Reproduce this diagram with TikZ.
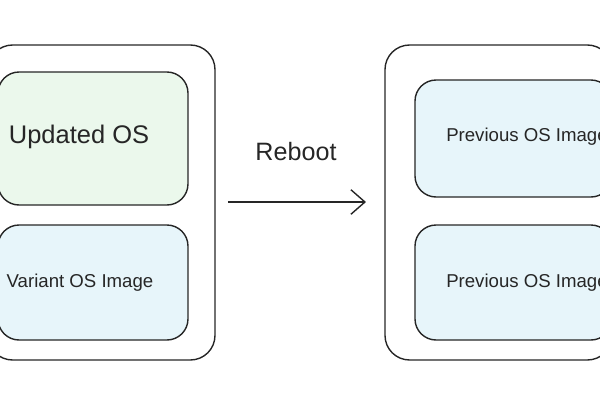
\documentclass[tikz,border=0pt]{standalone}
\usepackage{fontspec}
\setmainfont{Liberation Sans}
\usetikzlibrary{arrows.meta,patterns,positioning}
\definecolor{greenfill}{HTML}{EBF8EC}
\definecolor{bluefill}{HTML}{E7F5FA}
\tikzset{
	>=Straight Barb,
	outer/.style={draw=black!85, thick, rounded corners=14pt},
	slot/.style={draw=black!85, thick, rounded corners=12pt, inner sep=0pt},
	label/.style={font=\fontsize{10.6}{13}\selectfont, text=black!85}
}
\begin{document}
\begin{tikzpicture}[x=0.02cm,y=-0.02cm]
	\useasboundingbox (0,0) rectangle (600,400);

	% LEFT MACHINE
	\draw[outer] (-12,45) rectangle (215,360);
	\draw[slot, fill=greenfill] (-2,72) rectangle (188,205);
	\draw[slot, fill=bluefill] (-2,225) rectangle (188,340);
	\node[label, font=\fontsize{14.5}{17}\selectfont] (updated) at (79,137) {Updated OS};
	\node[label] (variant) at (80,283) {Variant OS Image};

	% RIGHT MACHINE
	\draw[outer] (385,45) rectangle (612,360);
	\draw[slot, fill=bluefill] (415,80) rectangle (612,197);
	\draw[slot, fill=bluefill] (415,225) rectangle (612,340);
	\node[label] (prevtop) at (527,137) {Previous OS Image};
	\node[label] (prevbottom) at (527,283) {Previous OS Image};

	% REBOOT
	\coordinate (from) at (228,202);
	\coordinate (to) at (366,202);
	\draw[->, thick, black!85, arrows={->[length=8pt,width=14pt]}] (from) -- (to);
	\node[label, font=\fontsize{14.3}{17}\selectfont] (reboot) at (296,152) {Reboot};
\end{tikzpicture}
\end{document}
